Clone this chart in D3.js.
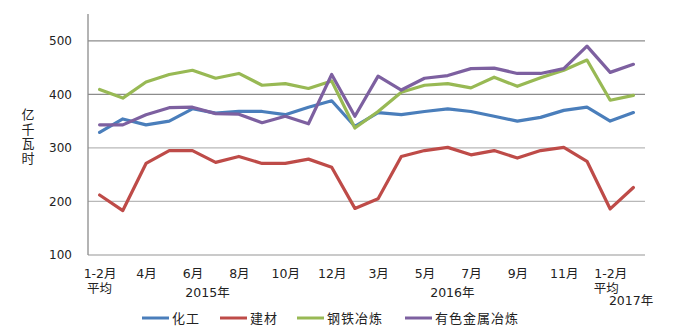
<!DOCTYPE html>
<html><head><meta charset="utf-8">
<script src="https://cdn.jsdelivr.net/npm/d3@7"></script>
<style>body{margin:0;background:#fff}svg{display:block}</style>
</head><body><div id="c"></div>
<script>
const categories = ["2015-1-2","2015-3","2015-4","2015-5","2015-6","2015-7","2015-8","2015-9","2015-10","2015-11","2015-12",
  "2016-1-2","2016-3","2016-4","2016-5","2016-6","2016-7","2016-8","2016-9","2016-10","2016-11","2016-12",
  "2017-1-2","2017-3"];
const tickLabels = ["1-2月","","4月","","6月","","8月","","10月","","12月","","3月","","5月","","7月","","9月","","11月","","1-2月",""];
const subLabels = [{i:0,t:"平均"},{i:22,t:"平均"}];
const yearLabels = [{t:"2015年",x:4.65,dy:0},{t:"2016年",x:15.2,dy:0},{t:"2017年",x:22.9,dy:8}];
const chem  = [329,354,343,350,373,365,368,368,362,376,388,340,366,362,368,373,368,359,350,357,370,376,350,366];
const build = [212,183,271,295,295,273,284,271,271,279,264,187,205,284,295,301,287,295,281,295,301,275,186,226];
const steel = [409,393,423,437,445,430,439,417,420,411,425,337,368,404,417,420,412,432,415,431,445,464,389,398];
const metal = [343,343,362,375,376,364,363,347,359,345,437,359,434,408,430,435,448,449,439,439,448,490,441,456];
const seriesNames = ["化工","建材","钢铁冶炼","有色金属冶炼"];
const colors = ["#4a7ebb","#be4b48","#98b954","#7d60a0"];
const yTicks = [100,200,300,400,500];

const W=680,H=332;
const svg=d3.select("#c").append("svg").attr("width",W).attr("height",H);
const font='"DejaVu Sans","Noto Sans CJK SC",sans-serif';
const x=d3.scalePoint().domain(d3.range(categories.length)).range([88,645]).padding(0.5);
const xl=d3.scaleLinear().domain([-0.5,categories.length-0.5]).range([88,645]);
const y=d3.scaleLinear().domain([100,550]).range([255,14]);

// grid
svg.append("g").selectAll("line").data(yTicks).join("line")
  .attr("x1",88).attr("x2",645).attr("y1",d=>y(d)).attr("y2",d=>y(d))
  .attr("stroke",d=>d>=400?"#8c8c8c":"#b8b8b8").attr("stroke-width",1.3);
// left axis
svg.append("line").attr("x1",88).attr("x2",88).attr("y1",y(550)).attr("y2",y(100)).attr("stroke","#8c8c8c").attr("stroke-width",1.3);

const ya=svg.append("g").attr("transform","translate(72,0)")
  .call(d3.axisLeft(y).tickValues(yTicks).tickSize(0).tickPadding(0));
ya.select(".domain").remove();
ya.selectAll("text").attr("font-family",font).attr("font-size",12).attr("fill","#222");

// y title vertical
const yt=["亿","千","瓦","时"];
svg.append("g").selectAll("text").data(yt).join("text")
  .attr("x",28).attr("y",(d,i)=>119+i*14.5).attr("text-anchor","middle")
  .attr("font-family",font).attr("font-size",13).attr("fill","#222").text(d=>d);

// x axis
const xa=svg.append("g").attr("transform","translate(0,269)")
  .call(d3.axisBottom(x).tickSize(0).tickPadding(0).tickFormat(i=>tickLabels[i]));
xa.select(".domain").remove();
xa.selectAll("text").attr("font-family",font).attr("font-size",12.5).attr("fill","#222").attr("dy","0.71em");

svg.append("g").selectAll("text").data(subLabels).join("text")
  .attr("x",d=>x(d.i)+(d.i===22?-4:0)).attr("y",293).attr("text-anchor","middle")
  .attr("font-family",font).attr("font-size",12.5).attr("fill","#222").text(d=>d.t);
svg.append("g").selectAll("text").data(yearLabels).join("text")
  .attr("x",d=>xl(d.x)).attr("y",d=>297+d.dy).attr("text-anchor","middle")
  .attr("font-family",font).attr("font-size",12.5).attr("fill","#222").text(d=>d.t);

// lines
const data=[chem,build,steel,metal];
const line=d3.line().x((d,i)=>x(i)).y(d=>y(d));
svg.append("g").selectAll("path").data(data).join("path")
  .attr("d",line).attr("fill","none").attr("stroke",(d,i)=>colors[i])
  .attr("stroke-width",3.2).attr("stroke-linejoin","round").attr("stroke-linecap","round");

// legend
const legX=[142,220,297,405];
const lg=svg.append("g").selectAll("g").data(seriesNames).join("g")
  .attr("transform",(d,i)=>`translate(${legX[i]},318)`);
lg.append("line").attr("x1",0).attr("x2",27).attr("stroke",(d,i)=>colors[i]).attr("stroke-width",3);
lg.append("text").attr("x",30).attr("dy","0.36em").attr("font-family",font).attr("font-size",13)
  .attr("letter-spacing",1).attr("fill","#222").text(d=>d);
</script></body></html>
